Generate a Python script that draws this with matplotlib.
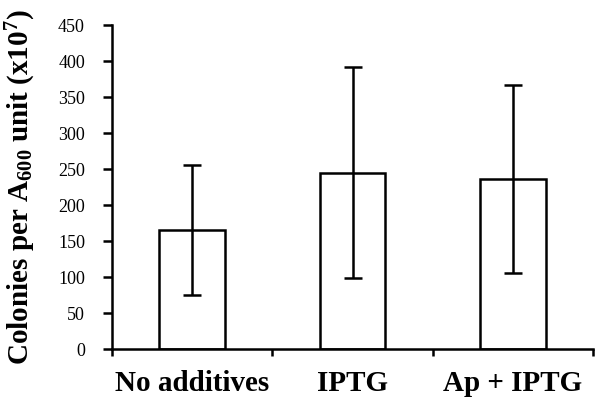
import matplotlib
matplotlib.use("Agg")
import matplotlib.pyplot as plt

categories = ["No additives", "IPTG", "Ap + IPTG"]
means = [165, 245, 236]
errors = [90, 147, 131]
yticks = [0, 50, 100, 150, 200, 250, 300, 350, 400, 450]

plt.rcParams['font.family'] = ['Liberation Serif', 'DejaVu Serif']
plt.rcParams['mathtext.fontset'] = 'custom'
plt.rcParams['mathtext.rm'] = 'Liberation Serif'
plt.rcParams['mathtext.bf'] = 'Liberation Serif:bold'
plt.rcParams['mathtext.it'] = 'Liberation Serif:italic'

fig = plt.figure(figsize=(6.0, 4.01), dpi=100)
ax = fig.add_axes([112/600, 52/401, 481/600, 324/401])

xpos = [i + 0.5 for i in range(len(categories))]
ax.bar(xpos, means, width=0.41, facecolor='white', edgecolor='black', linewidth=1.8, zorder=2)
ax.errorbar(xpos, means, yerr=errors, fmt='none', ecolor='black', elinewidth=1.8,
            capsize=6.5, capthick=1.8, zorder=3)

ax.set_xlim(0, 3)
ax.set_ylim(0, 450)
ax.set_yticks(yticks)
ax.set_yticklabels([str(v) for v in yticks], fontsize=13)
ax.set_xticks([0, 1, 2, 3])
ax.set_xticklabels([])
ax.set_xticks(xpos, minor=True)
ax.set_xticklabels(categories, minor=True, fontsize=21, fontweight='bold')
ax.tick_params(axis='x', which='minor', length=0, pad=15)
ax.tick_params(axis='x', which='major', length=5, width=1.8, direction='out')
ax.tick_params(axis='y', length=6.5, width=1.8, direction='out', pad=13)

for s in ['top', 'right']:
    ax.spines[s].set_visible(False)
for s in ['left', 'bottom']:
    ax.spines[s].set_linewidth(1.8)

ax.set_ylabel(r"Colonies per A$_{\mathbf{600}}$ unit (x10$^{\mathbf{7}}$)",
              fontsize=21, fontweight='bold', labelpad=14)

fig.savefig("out.png", dpi=100)
